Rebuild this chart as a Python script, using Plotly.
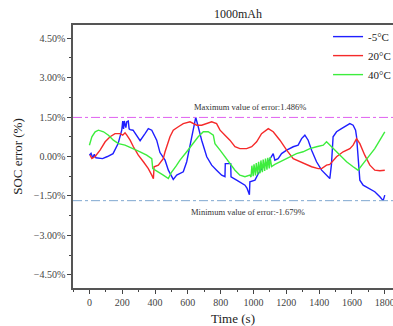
import plotly.graph_objects as go

# -5 °C series
t_m5 = [0, 10, 20, 30, 40, 80, 110, 144, 175, 197, 203, 208, 213, 222, 228, 237, 242, 248, 266, 289, 309,
        339, 359, 380, 410, 430, 461, 481, 502, 511, 532, 552, 572, 593, 613, 633, 648, 663, 684, 715,
        745, 775, 806, 826, 828, 861, 863, 897, 928, 948, 960, 975, 978, 1009, 1029, 1059, 1090, 1110,
        1120, 1130, 1150, 1171, 1202, 1242, 1272, 1293, 1313, 1333, 1354, 1384, 1415, 1465, 1475, 1485,
        1506, 1536, 1567, 1587, 1607, 1622, 1628, 1637, 1648, 1668, 1709, 1739, 1770, 1790, 1800]
v_m5 = [0.05, 0.12, -0.05, 0.08, -0.05, -0.08, 0.0, 0.11, 0.49, 1.0, 1.35, 1.05, 1.35, 1.1, 1.32, 1.35, 1.05,
        1.02, 1.0, 0.76, 0.6, 0.87, 1.06, 1.0, 0.62, 0.15, -0.14, -0.52, -0.77, -0.87, -0.71, -0.65, -0.58,
        -0.2, 0.37, 1.0, 1.486, 1.13, 0.62, -0.01, -0.33, -0.52, -0.71, -0.77, -0.27, -0.27, -0.77, -0.9,
        -1.03, -1.09, -1.2, -1.45, -0.96, -0.9, -0.65, -0.39, -0.2, -0.01, 0.11, -0.14, -0.08, 0.11, 0.24,
        0.37, 0.43, 0.68, 0.81, 0.62, 0.24, -0.2, -0.52, -0.84, -0.3, 0.75, 0.94, 1.06, 1.19, 1.25, 1.19,
        1.0, 0.75, -0.01, -0.9, -1.09, -1.22, -1.34, -1.53, -1.679, -1.47]

# 20 °C series
t_20 = [4, 15, 35, 65, 96, 126, 156, 187, 203, 217, 228, 248, 268, 298, 329, 359, 380, 390, 394, 420, 450,
        461, 491, 511, 542, 572, 613, 654, 684, 715, 745, 775, 796, 826, 856, 887, 917, 958, 989, 1019,
        1049, 1090, 1120, 1161, 1202, 1242, 1283, 1313, 1354, 1394, 1415, 1445, 1465, 1506, 1546, 1587,
        1607, 1628, 1648, 1678, 1709, 1739, 1770, 1800]
v_20 = [0.05, -0.08, 0.0, 0.24, 0.56, 0.75, 0.87, 0.87, 0.81, 0.9, 0.81, 0.62, 0.37, 0.05, -0.2, -0.46,
        -0.71, -0.84, -0.39, -0.33, -0.08, 0.18, 0.75, 1.0, 1.13, 1.25, 1.32, 1.19, 1.19, 1.25, 1.32, 1.25,
        1.0, 0.81, 0.62, 0.37, 0.3, 0.3, 0.37, 0.56, 0.87, 1.06, 0.94, 0.62, 0.24, -0.08, -0.2, -0.27,
        -0.39, -0.46, -0.46, -0.33, -0.3, -0.01, 0.18, 0.3, 0.43, 0.68, 0.49, 0.05, -0.33, -0.52, -0.54, -0.52]

# 40 °C series
t_40 = [0, 15, 35, 55, 86, 116, 146, 177, 217, 268, 309, 349, 380, 386, 420, 450, 481, 500, 530, 552, 593,
        633, 663, 694, 724, 755, 765, 796, 826, 856, 887, 917, 948, 978, 985, 990, 998, 1003, 1012, 1017,
        1026, 1031, 1040, 1045, 1054, 1059, 1068, 1073, 1082, 1087, 1096, 1101, 1110, 1130, 1180, 1221,
        1262, 1302, 1343, 1384, 1425, 1445, 1485, 1526, 1567, 1607, 1637, 1668, 1699, 1739, 1770, 1800]
v_40 = [0.43, 0.75, 0.94, 1.0, 0.94, 0.81, 0.62, 0.49, 0.43, 0.3, 0.18, 0.05, -0.08, -0.46, -0.58, -0.71,
        -0.84, -0.6, -0.35, -0.14, 0.18, 0.49, 0.75, 0.94, 0.94, 0.81, 0.49, 0.24, -0.01, -0.27, -0.52,
        -0.71, -0.77, -0.71, -0.78, -0.35, -0.75, -0.3, -0.72, -0.25, -0.68, -0.2, -0.64, -0.15, -0.6,
        -0.12, -0.55, -0.08, -0.5, -0.05, -0.45, -0.02, -0.38, -0.3, -0.14, -0.01, 0.11, 0.18, 0.3, 0.37,
        0.43, 0.56, 0.3, 0.05, -0.2, -0.39, -0.52, -0.27, -0.01, 0.3, 0.62, 0.94]

series_names = ["-5°C", "20°C", "40°C"]
series_colors = ["#1f1fff", "#f52a2a", "#3ded3d"]

y_ticks = [-4.5, -3.0, -1.5, 0.0, 1.5, 3.0, 4.5]
y_tick_text = ["\u22124.50%", "\u22123.00%", "\u22121.50%", "0.00%", "1.50%", "3.00%", "4.50%"]
x_ticks = [0, 200, 400, 600, 800, 1000, 1200, 1400, 1600, 1800]

max_err = 1.486
min_err = -1.679

FONT = "Times New Roman, Liberation Serif, serif"

W, H = 393, 326

fig = go.Figure()
for t, v, name, color in zip([t_m5, t_20, t_40], [v_m5, v_20, v_40], series_names, series_colors):
    fig.add_trace(go.Scatter(x=t, y=v, mode="lines", name=name,
                             line=dict(color=color, width=1.4)))

fig.add_shape(type="line", xref="paper", x0=0, x1=1, yref="y", y0=max_err, y1=max_err,
              line=dict(color="#e060f0", width=1, dash="dashdot"))
fig.add_shape(type="line", xref="paper", x0=0, x1=1, yref="y", y0=min_err, y1=min_err,
              line=dict(color="#7fa8d0", width=1, dash="dashdot"))

fig.add_annotation(x=980, y=1.88, text=f"Maximum value of error:{max_err}%", showarrow=False,
                   font=dict(family=FONT, size=8.5, color="#333"))
fig.add_annotation(x=966, y=-2.12, text=f"Minimum value of error:{min_err}%", showarrow=False,
                   font=dict(family=FONT, size=8.5, color="#333"))

fig.update_layout(
    width=W, height=H,
    margin=dict(l=73, r=0, t=25, b=38, autoexpand=False),
    paper_bgcolor="white", plot_bgcolor="white",
    title=dict(text="1000mAh", x=238 / W, xanchor="center", y=1 - 14 / H, yanchor="middle",
               font=dict(family=FONT, size=12, color="#222")),
    font=dict(family=FONT, color="#333"),
    legend=dict(x=0.797, xanchor="left", y=1.011, yanchor="top",
                bgcolor="rgba(0,0,0,0)", font=dict(family=FONT, size=11, color="#222"),
                tracegroupgap=0, itemwidth=30),
    showlegend=True,
)
fig.update_xaxes(range=[-100, 1850], tickvals=x_ticks, showgrid=False, zeroline=False, automargin=False,
                 showline=True, linecolor="#555", linewidth=1.5, mirror=True,
                 ticks="outside", ticklen=4, tickcolor="#444", tickwidth=1, ticklabeloverflow="allow",
                 minor=dict(dtick=100, tick0=0, ticks="outside", ticklen=2, tickcolor="#444", showgrid=False),
                 tickfont=dict(family=FONT, size=10, color="#444"),
                 title=dict(text="Time (s)", font=dict(family=FONT, size=13, color="#222"), standoff=8))
fig.update_yaxes(range=[-5, 5], tickvals=y_ticks, ticktext=y_tick_text, showgrid=False, zeroline=False,
                 automargin=False,
                 showline=True, linecolor="#555", linewidth=1.5,
                 ticks="outside", ticklen=4, tickcolor="#444", tickwidth=1,
                 minor=dict(dtick=0.75, tick0=0, ticks="outside", ticklen=2, tickcolor="#444", showgrid=False),
                 tickfont=dict(family=FONT, size=10, color="#444"),
                 title=dict(text="SOC error (%)", font=dict(family=FONT, size=13, color="#222"), standoff=8))

# remove the page's default body margin so the figure fills the window exactly
fig.write_html("out.html", config={"displayModeBar": False},
               post_script="document.body.style.margin='0';document.body.style.overflow='hidden';")
